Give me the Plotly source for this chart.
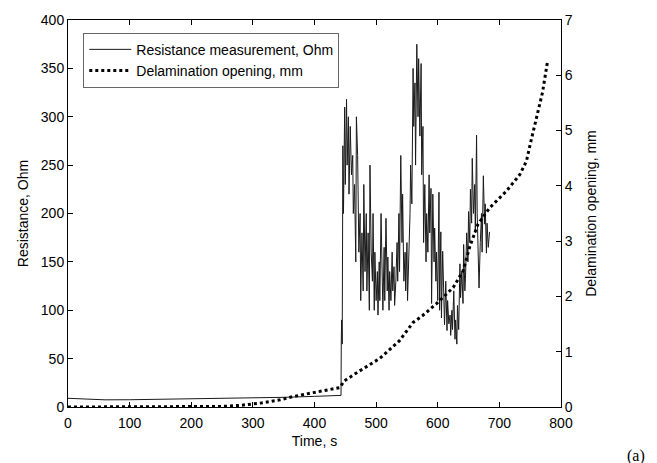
import plotly.graph_objects as go

# ---- Resistance measurement (Ohm) ----
flat_time_s = [0, 20, 40, 60, 100, 150, 200, 250, 300, 350, 400, 430, 442]
flat_resistance_ohm = [9.0, 8.5, 7.5, 7.4, 7.5, 8.0, 8.5, 8.5, 9.0, 10.0, 11.0, 11.8, 12.0]

active_time_s = [443, 443.5, 444, 445, 446, 447, 449, 450, 452, 453, 455, 456, 458, 460, 462, 463, 465, 467,
                 468, 470, 472, 474, 475, 477, 479, 480, 482, 484, 485, 487, 489, 490, 492, 494, 495, 497,
                 498, 500, 502, 503, 505, 506, 508, 510, 511, 513, 514, 516, 518, 519, 521, 522, 524, 526,
                 527, 529, 530, 532, 534, 535, 537, 538, 540, 542, 543, 545, 547, 548, 550, 551, 553, 555,
                 556, 558, 560, 561, 563, 564, 566, 568, 569, 571, 573, 574, 576, 577, 579, 581, 582, 584,
                 586, 587, 589, 590, 592, 594, 595, 597, 598, 600, 602, 603, 605, 606, 608, 610, 611, 613,
                 615, 616, 618, 620, 621, 623, 624, 626, 628, 629, 631, 632, 634, 636, 637, 639, 641, 642,
                 644, 645, 647, 649, 650, 652, 653, 655, 656, 658, 660, 661, 663, 664, 666, 667, 669, 671,
                 672, 674, 676, 677, 679, 680, 682, 684]
active_resistance_ohm = [12, 70, 90, 65, 270, 200, 310, 230, 318, 250, 300, 220, 290, 240, 260, 200, 230, 150,
                         300, 260, 160, 200, 110, 180, 120, 230, 140, 200, 120, 180, 100, 250, 160, 130, 200, 100,
                         160, 110, 140, 95, 150, 110, 200, 130, 100, 165, 110, 195, 120, 155, 100, 140, 110, 160,
                         120, 145, 105, 130, 170, 130, 200, 140, 260, 170, 220, 130, 160, 120, 170, 110, 150, 200,
                         250, 210, 350, 290, 335, 250, 375, 300, 360, 280, 355, 240, 290, 170, 230, 150, 200, 160,
                         240, 180, 226, 107, 220, 150, 185, 130, 160, 110, 222, 100, 181, 92, 161, 107, 85, 130,
                         79, 110, 86, 95, 74, 100, 80, 120, 70, 90, 65, 105, 80, 148, 113, 140, 107, 168,
                         120, 133, 180, 150, 202, 170, 225, 190, 257, 200, 230, 180, 281, 200, 150, 123, 170, 200,
                         160, 239, 189, 210, 159, 190, 165, 181]

resistance_time_s = flat_time_s + active_time_s
resistance_ohm = flat_resistance_ohm + active_resistance_ohm

# ---- Delamination opening (mm) ----
delam_time_s = [0, 100, 200, 250, 280, 312, 344, 366, 398, 441, 444, 448, 470, 506, 538, 560, 575, 598,
                625, 641, 652, 665, 684, 711, 733, 744, 750, 760, 770, 778]
delam_opening_mm = [0, 0, 0, 0.01, 0.03, 0.07, 0.13, 0.19, 0.26, 0.35, 0.40, 0.47, 0.63, 0.88, 1.2, 1.53,
                    1.65, 1.87, 2.16, 2.46, 2.9, 3.3, 3.6, 3.9, 4.2, 4.45, 4.75, 5.2, 5.69, 6.24]

FONT = "Liberation Sans, Arial, sans-serif"

fig = go.Figure()
fig.add_trace(go.Scatter(x=resistance_time_s, y=resistance_ohm, mode="lines",
                         name="Resistance measurement, Ohm",
                         line=dict(color="#1a1a1a", width=1)))
fig.add_trace(go.Scatter(x=delam_time_s, y=delam_opening_mm, mode="lines",
                         name="Delamination opening, mm", yaxis="y2",
                         line=dict(color="black", width=3, dash="dot")))

axis_common = dict(showline=True, linecolor="black", linewidth=1, ticks="inside", ticklen=5,
                   tickcolor="black", showgrid=False, zeroline=False,
                   tickfont=dict(family=FONT, size=14, color="black"))

fig.update_layout(
    width=657, height=463,
    margin=dict(l=67.5, r=95.5, t=17, b=56),
    paper_bgcolor="white", plot_bgcolor="white",
    font=dict(family=FONT, size=14, color="black"),
    xaxis=dict(range=[0, 800], dtick=100, mirror="ticks", ticklabelstandoff=3,
               title=dict(text="Time, s", font=dict(size=14), standoff=6), **axis_common),
    yaxis=dict(range=[0, 400], dtick=50,
               title=dict(text="Resistance, Ohm", font=dict(size=14), standoff=8), **axis_common),
    yaxis2=dict(range=[0, 7], dtick=1, overlaying="y", side="right", anchor="x",
                title=dict(text="Delamination opening, mm", font=dict(size=14), standoff=14), **axis_common),
    legend=dict(x=0.031, y=0.967, xanchor="left", yanchor="top",
                bordercolor="#666", borderwidth=1, bgcolor="white", itemwidth=42,
                font=dict(family=FONT, size=14, color="black"), tracegroupgap=0),
    showlegend=True,
    annotations=[dict(text="(a)", xref="paper", yref="paper", x=1.153, y=-0.126,
                      xanchor="center", yanchor="middle", showarrow=False,
                      font=dict(family="Liberation Serif, Times New Roman, serif",
                                size=16, color="black"))],
)

fig.write_html("out.html")
